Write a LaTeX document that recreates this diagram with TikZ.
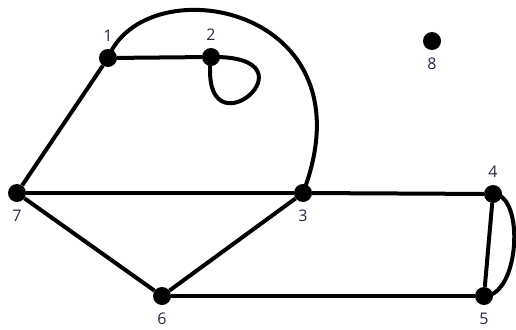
\documentclass[tikz,border=0pt]{standalone}
\usepackage{fontspec}
\setmainfont{Open Sans}
\usetikzlibrary{backgrounds}
\definecolor{labelblue}{RGB}{36,42,68}

\begin{document}
\begin{tikzpicture}[
        x=1pt, y=-1pt,
        every node/.style={
            circle,
            fill=black,
            minimum size=18pt,
            inner sep=0pt
        },
        every label/.style={
            fill=none,
            text=labelblue,
            font=\fontsize{16}{16}\selectfont,
            inner sep=0pt
        },
        label distance=4pt,
        edge/.style={line width=4pt}
    ]
    \useasboundingbox (0,0) rectangle (516,329);

    % Vertices
    \node[label=above:1] (n1) at (108,58)  {};
    \node[label=above:2] (n2) at (211,57)  {};
    \node[label=below:8] (n8) at (432,41)  {};
    \node[label=below:7] (n7) at (17,193)  {};
    \node[label=below:3] (n3) at (303,193) {};
    \node[label=above:4] (n4) at (493,194) {};
    \node[label=below:6] (n6) at (162,296) {};
    \node[label=below:5] (n5) at (484,296) {};

    % Edges
    \begin{pgfonlayer}{background}
    \draw[edge] (n1) -- (n2);
    \draw[edge] (n1) -- (n7);
    \draw[edge] (n7) -- (n3);
    \draw[edge] (n7) -- (n6);
    \draw[edge] (n6) -- (n3);
    \draw[edge] (n3) -- (n4);
    \draw[edge] (n6) -- (n5);
    \draw[edge] (n4) -- (n5);
    \draw[edge] (n4.center) .. controls (525,194) and (520,296) .. (n5.center);
    \draw[edge] (n1.center) .. controls (145,-35) and (375,5) .. (n3.center);
    \draw[edge] (n2.center) .. controls (325,55) and (198,162) .. (n2.center);
    \end{pgfonlayer}

\end{tikzpicture}
\end{document}
